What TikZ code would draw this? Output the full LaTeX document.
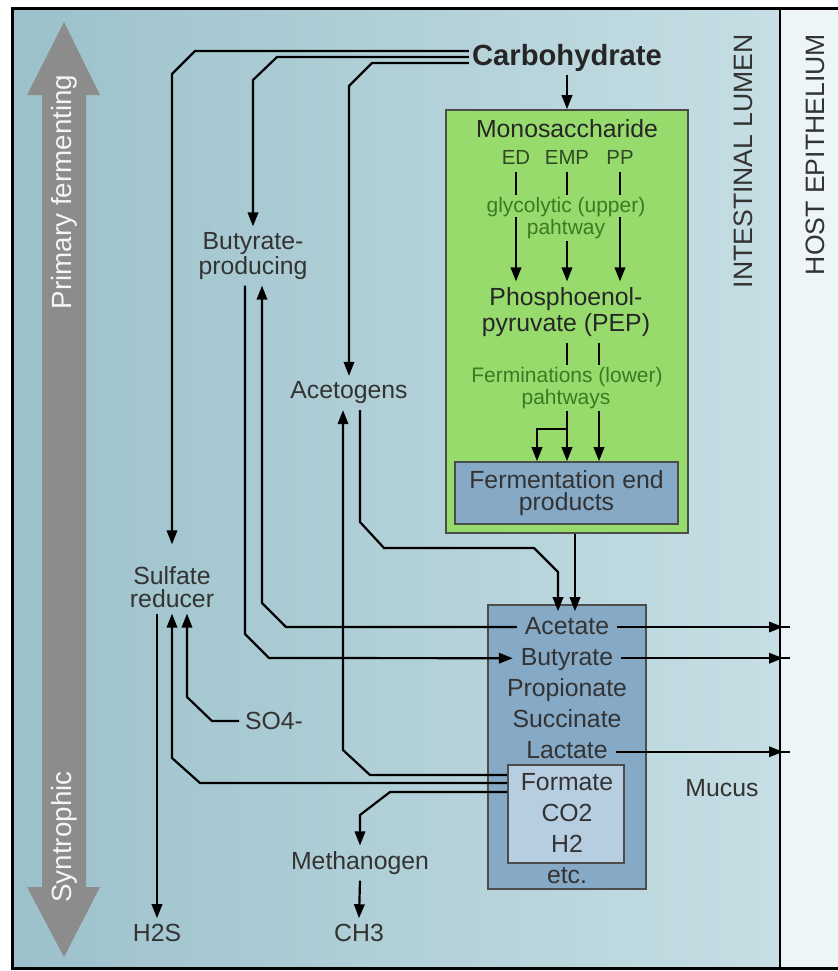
\documentclass[tikz,border=0pt]{standalone}
\usepackage{fontspec}
\setmainfont{Liberation Sans}
\usepackage{xcolor}
\usetikzlibrary{shapes, arrows.meta, positioning}

\definecolor{lumenleft}{HTML}{9CC1CB}
\definecolor{lumenright}{HTML}{C6DEE4}
\definecolor{epithelium}{HTML}{EEF5F8}
\definecolor{bandgray}{HTML}{8C8C8C}
\definecolor{cellgreen}{HTML}{98DB6D}
\definecolor{endblue}{HTML}{86A9C6}
\definecolor{gasblue}{HTML}{B7CEE1}
\definecolor{inkgray}{HTML}{333333}
\definecolor{pathgreen}{HTML}{3C7A22}
\definecolor{enzymegreen}{HTML}{2F4A24}

\begin{document}
\begin{tikzpicture}[x=0.5pt, y=-0.5pt, node distance=15.6pt, line width=1.1pt]
    \tikzstyle{microbe} = [text=inkgray, font=\fontsize{12.4}{12.5}\selectfont, align=center, inner sep=1pt, outer sep=2pt]
    \tikzstyle{product} = [microbe, text height=9pt, text depth=2pt, outer sep=3pt]
    \tikzstyle{route} = [text=pathgreen, font=\fontsize{10.5}{11}\selectfont, inner sep=1pt, outer sep=0pt]
    \tikzstyle{enzyme} = [text=enzymegreen, font=\fontsize{10.2}{10.5}\selectfont, inner sep=1pt, outer sep=3pt]
    \tikzstyle{panel} = [rectangle, draw=black!70, line width=0.8pt]
    \tikzstyle{zone} = [text=inkgray, font=\fontsize{13.3}{14}\selectfont, rotate=90, anchor=east, inner sep=0pt]
    \tikzstyle{band} = [text=white!92!gray, font=\fontsize{13.9}{14}\selectfont, rotate=90]
    \tikzstyle{line} = [draw, -{Triangle[length=7pt, width=5.2pt]}]
    \tikzstyle{wire} = [draw]

    % background: lumen and epithelium
    \useasboundingbox (0,0) rectangle (838,971);
    \shade [left color=lumenleft, right color=lumenright] (12,8) rectangle (780,968);
    \fill [epithelium] (780,8) rectangle (838,968);
    \draw [line width=1.5pt] (838,8) -- (12,8) -- (12,968) -- (838,968);
    \draw [line width=1.4pt] (780,8) -- (780,968);

    % gray double arrow
    \fill [bandgray] (64,22) -- (100,95) -- (86,95) -- (86,887) -- (100,887) -- (64,957)
        -- (27,887) -- (42,887) -- (42,95) -- (27,95) -- cycle;
    \node [band] (primary) at (64,192) {Primary fermenting};
    \node [band] (syntrophic) at (64,837) {Syntrophic};

    \node [zone] (lumen) at (743,33) {INTESTINAL LUMEN};
    \node [zone] (host) at (815,33) {HOST EPITHELIUM};

    % panels
    \node [panel, fill=cellgreen, minimum width=121pt, minimum height=211.5pt] (cell) at (567,321.5) {};
    \node [panel, fill=endblue, minimum width=111.5pt, minimum height=31pt, text=inkgray,
           font=\fontsize{12.4}{11}\selectfont, align=center] (endprod) at (566.5,493) {Fermentation end\\products};
    \node [panel, fill=endblue, minimum width=79pt, minimum height=142pt] (pool) at (567,747) {};
    \node [panel, fill=gasblue, minimum width=58pt, minimum height=49pt] (gas) at (566,814) {};

    % inside the cell
    \node [font=\bfseries\fontsize{14.6}{15}\selectfont, text=black!85, inner sep=1pt] (carb) at (567,58) {Carbohydrate};
    \node [microbe, text=black!85] (mono) at (567,129) {Monosaccharide};
    \node [enzyme] (ed) at (516,157) {ED};
    \node [enzyme] (emp) at (567,157) {EMP};
    \node [enzyme] (pp) at (620,157) {PP};
    \node [route] (glyc) at (566,207) {glycolytic (upper)};
    \node [route] (glycb) at (566,229) {pahtway};
    \node [microbe, text=black!85, font=\fontsize{12.4}{13}\selectfont] (pep) at (566,312) {Phosphoenol-\\pyruvate (PEP)};
    \node [route] (ferm) at (567,377) {Ferminations (lower)};
    \node [route] (fermb) at (566,399) {pahtways};

    % product pool
    \node [product] (acetate) at (567,627) {Acetate};
    \node [product, below of=acetate] (butyrate) {Butyrate};
    \node [product, below of=butyrate] (propionate) {Propionate};
    \node [product, below of=propionate] (succinate) {Succinate};
    \node [product, below of=succinate] (lactate) {Lactate};
    \node [product, below of=lactate] (formate) {Formate};
    \node [product, below of=formate] (co2) {CO2};
    \node [product, below of=co2] (h2) {H2};
    \node [product, below of=h2] (etc) {etc.};
    \node [microbe] (mucus) at (722,788) {Mucus};

    % microbes
    \node [microbe] (butprod) at (253,256) {Butyrate-\\producing};
    \node [microbe] (acetogens) at (349,393) {Acetogens};
    \node [microbe, font=\fontsize{12.4}{11.5}\selectfont] (sulfate) at (172,587) {Sulfate\\reducer};
    \node [microbe] (so4) at (274,721) {SO4-};
    \node [microbe] (methanogen) at (360,863) {Methanogen};
    \node [microbe] (h2s) at (157,933) {H2S};
    \node [microbe] (ch3) at (359,933) {CH3};

    % carbohydrate feeds
    \path [line, shorten >=8pt] (carb.west |- 0,51) -- (195,51) -- (172,74) -- (172,0 |- sulfate.north);
    \path [line] (carb.west |- 0,57) -- (277,57) -- (253,80) -- (butprod.north);
    \path [line] (carb.west |- 0,63) -- (372,63) -- (349,86) -- (acetogens.north);
    \path [line] (carb.south) -- (cell.north);

    % glycolytic (upper) pathways
    \path [wire] (ed.south) -- (ed |- glyc.north);
    \path [wire] (emp.south) -- (emp |- glyc.north);
    \path [wire] (pp.south) -- (pp |- glyc.north);
    \path [line] (ed |- glycb.north) -- (ed |- pep.north);
    \path [line] (emp |- glycb.south) -- (emp |- pep.north);
    \path [line] (pp |- glycb.north) -- (pp |- pep.north);

    % lower pathways
    \path [wire] (567,0 |- pep.south) -- (567,0 |- ferm.north);
    \path [wire] (599,0 |- pep.south) -- (599,0 |- ferm.north);
    \path [line] (567,0 |- fermb.south) -- (567,0 |- endprod.north);
    \path [line] (599,0 |- fermb.south) -- (599,0 |- endprod.north);
    \path [line] (567,429) -- (537,429) -- (537,0 |- endprod.north);

    % into the product pool
    \path [line, shorten >=-3.5pt] (575,0 |- cell.south) -- (575,0 |- pool.north);
    \path [line, shorten >=-3.5pt] (360,0 |- acetogens.south) -- (360,522) -- (384,548) -- (534,548)
        -- (558,572) -- (558,0 |- pool.north);

    % butyrate producers
    \path [line] (acetate.west) -- (286,627) -- (262,603) -- (262,0 |- butprod.south);
    \path [line] (245,0 |- butprod.south) -- (245,634) -- (269,658) -- (butyrate.west);

    % formate, CO2 and H2 users
    \path [line] (gas.west |- 0,775) -- (370,775) -- (343,750) -- (343,0 |- acetogens.south);
    \path [line] (gas.west |- 0,783) -- (200,783) -- (172,758) -- (172,0 |- sulfate.south);
    \path [line] (so4.west) -- (212,721) -- (187,697) -- (187,0 |- sulfate.south);
    \path [line] (157,0 |- sulfate.south) -- (h2s.north);
    \path [line] (gas.west |- 0,792) -- (390,792) -- (360,815) -- (methanogen.north);
    \path [line] (methanogen.south) -- (ch3.north);

    % export to the epithelium
    \path [line] (acetate.east) -- (783,0 |- acetate.east);
    \path [wire] (778,0 |- acetate.east) -- (790,0 |- acetate.east);
    \path [line] (butyrate.east) -- (783,0 |- butyrate.east);
    \path [wire] (778,0 |- butyrate.east) -- (790,0 |- butyrate.east);
    \path [line] (lactate.east) -- (783,0 |- lactate.east);
    \path [wire] (778,0 |- lactate.east) -- (790,0 |- lactate.east);
\end{tikzpicture}
\end{document}
